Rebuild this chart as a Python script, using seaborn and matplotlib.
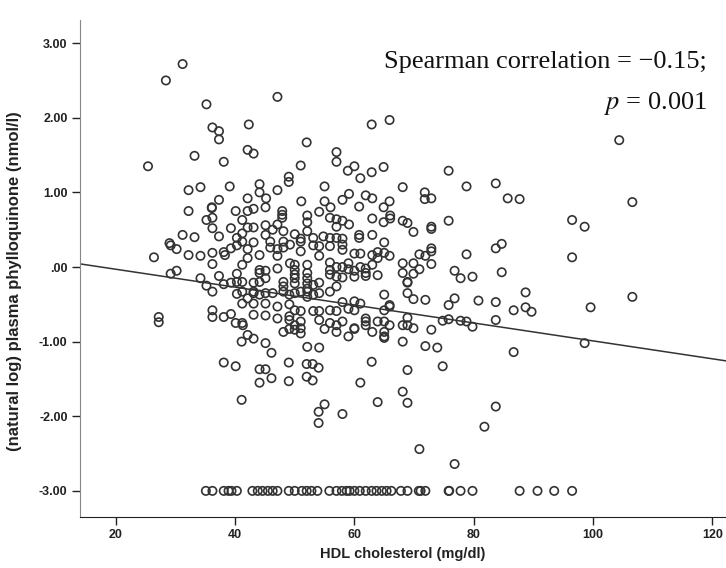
import numpy as np
import pandas as pd
import matplotlib
matplotlib.use('Agg')
import matplotlib.pyplot as plt
import seaborn as sns

# HDL cholesterol (mg/dl) and ln plasma phylloquinone (nmol/l)
hdl_upper = [31.2, 28.4, 35.2, 36.2, 37.3, 37.3, 33.2, 25.4, 38.1, 39.1, 34.2, 32.2,
             47.1, 42.3, 62.9, 65.9, 52.0, 42.1, 43.1, 57.0, 57.0, 51.0, 58.9, 60.0,
             61.0, 62.9, 64.9, 49.0, 49.0, 44.1, 55.0, 47.1,
             75.8, 78.8, 83.7, 68.1, 104.4]
phk_upper = [2.72, 2.50, 2.18, 1.87, 1.82, 1.71, 1.49, 1.35, 1.41, 1.08, 1.07, 1.03,
             2.28, 1.91, 1.91, 1.97, 1.67, 1.57, 1.52, 1.54, 1.41, 1.36, 1.29, 1.35,
             1.19, 1.27, 1.34, 1.21, 1.14, 1.11, 1.08, 1.03,
             1.29, 1.08, 1.12, 1.07, 1.70]

hdl_right = [106.6, 96.5, 98.6, 96.5, 106.6, 99.6, 98.6,
             71.8, 71.8, 72.9, 85.7, 87.7, 68.1, 68.9, 69.9, 72.9, 72.9, 75.8, 72.9,
             72.9, 70.9, 71.9, 78.8, 83.7, 84.7, 68.1, 69.9, 68.1, 69.9, 70.9, 72.9,
             68.9, 68.9, 76.8, 77.8, 79.8, 84.7, 68.9, 69.9, 71.9, 75.8, 76.8, 80.8,
             83.7, 88.7, 86.7, 88.7, 89.7, 68.9, 68.1, 68.9, 69.9, 72.9, 74.8, 75.8,
             77.8, 78.8, 79.8, 83.7, 68.1, 71.9, 73.9, 86.7,
             68.9, 74.8, 68.1, 68.9, 83.7, 81.8, 70.9, 76.8]
phk_right = [0.87, 0.63, 0.54, 0.13, -0.40, -0.54, -1.02,
             1.00, 0.91, 0.92, 0.92, 0.91, 0.62, 0.59, 0.47, 0.54, 0.51, 0.62, 0.25,
             0.21, 0.17, 0.15, 0.17, 0.25, 0.31, 0.05, 0.05, -0.08, -0.09, -0.03, 0.04,
             -0.20, -0.21, -0.05, -0.15, -0.13, -0.07, -0.35, -0.43, -0.44, -0.51, -0.42, -0.45,
             -0.47, -0.34, -0.58, -0.54, -0.60, -0.68, -0.78, -0.78, -0.82, -0.84, -0.72, -0.70,
             -0.72, -0.73, -0.80, -0.71, -1.00, -1.06, -1.08, -1.14,
             -1.38, -1.33, -1.67, -1.82, -1.87, -2.14, -2.44, -2.64]

hdl_left = [37.3, 36.1, 36.1, 32.2, 40.1, 35.2, 36.2, 36.2, 39.3, 31.2, 33.2, 37.3,
            40.3, 29.0, 29.2, 30.2, 26.4, 32.2, 34.2, 36.2, 38.1, 38.3, 39.3, 40.3,
            36.2, 29.2, 30.2, 34.2, 35.2, 36.2, 37.3, 38.1, 39.3, 40.3, 40.3, 40.3,
            27.2, 27.2, 36.2, 36.2, 38.1, 39.3, 40.1, 41.1, 41.3,
            38.1, 40.1, 41.1]
phk_left = [0.90, 0.80, 0.79, 0.75, 0.75, 0.63, 0.66, 0.52, 0.52, 0.43, 0.40, 0.41,
            0.39, 0.32, 0.29, 0.24, 0.13, 0.16, 0.15, 0.19, 0.20, 0.16, 0.25, 0.29,
            0.04, -0.09, -0.05, -0.15, -0.25, -0.33, -0.12, -0.23, -0.21, -0.09, -0.20, -0.36,
            -0.67, -0.74, -0.58, -0.67, -0.67, -0.63, -0.75, -1.00, -0.78,
            -1.28, -1.33, -1.78]

hdl_low = [46.1, 44.1, 45.1, 44.1, 46.1, 49.0, 49.0, 52.0, 53.0, 54.0, 52.0, 53.0,
           54.0, 55.0, 54.0, 58.0, 62.9, 61.0, 63.9]
phk_low = [-1.15, -1.37, -1.37, -1.55, -1.49, -1.28, -1.53, -1.30, -1.30, -1.35, -1.47, -1.52,
           -1.94, -1.84, -2.09, -1.97, -1.27, -1.55, -1.81]

hdl_mid = [44.1, 42.1, 45.2, 51.1, 55.0, 56.0, 58.0, 59.1, 61.9, 63.0, 65.9, 64.9,
           43.1, 42.1, 45.1, 47.9, 47.9, 47.9, 52.1, 52.1, 54.1, 55.9, 57.0, 57.0, 58.0,
           59.1, 60.8, 63.0, 66.0, 66.0, 64.9,
           41.2, 42.1, 43.1, 45.1, 45.1, 46.3, 47.1, 48.1, 50.0, 51.0, 51.0, 52.1, 53.1,
           54.8, 55.9, 57.0, 58.0, 58.0, 60.8, 60.8, 63.0, 65.0,
           41.2, 41.2, 43.1, 42.1, 45.9, 45.9, 47.1, 48.1, 48.1, 49.2, 51.0, 53.1, 54.1,
           54.1, 55.9, 58.0, 60.0, 61.0, 63.0, 63.9, 65.0, 65.9,
           42.1, 41.2, 44.1, 47.1, 47.1, 49.2, 50.0, 50.0, 50.0, 52.1, 52.1, 55.9, 55.9,
           55.9, 57.0, 58.0, 59.0, 59.0, 60.0, 61.0, 61.9, 61.9, 63.0, 63.9,
           41.2, 43.1, 44.1, 44.1, 45.1, 44.1, 45.1, 48.1, 48.1, 50.0, 50.0, 52.1, 52.1,
           52.1, 53.1, 54.1, 57.0, 58.0, 60.0, 61.9, 63.9,
           41.2, 42.1, 43.1, 43.1, 44.1, 45.1, 46.3, 48.1, 49.1, 50.0, 51.0, 52.1, 52.1,
           53.1, 54.1, 55.9, 57.0, 58.0, 60.0, 61.0, 65.0, 65.9, 65.9,
           41.2, 43.1, 45.1, 47.1, 49.1, 50.0, 51.0, 53.1, 54.1, 55.9, 57.0, 59.0, 60.0, 65.0,
           41.2, 43.1, 45.1, 47.1, 49.1, 49.1, 50.0, 51.0, 51.0, 54.1, 55.9, 57.0, 58.0,
           60.0, 61.9, 61.9, 61.9, 63.9, 65.0, 65.0, 65.0, 65.9,
           42.1, 43.1, 45.1, 48.1, 49.1, 50.0, 51.0, 52.1, 54.1, 55.0, 57.0, 59.0, 60.0,
           63.0, 65.0]
phk_mid = [1.00, 0.92, 0.92, 0.88, 0.88, 0.80, 0.90, 0.98, 0.96, 0.92, 0.88, 0.80,
           0.78, 0.75, 0.80, 0.75, 0.70, 0.66, 0.69, 0.60, 0.74, 0.66, 0.64, 0.54, 0.62,
           0.57, 0.81, 0.65, 0.69, 0.65, 0.60,
           0.63, 0.53, 0.53, 0.56, 0.43, 0.50, 0.57, 0.48, 0.44, 0.38, 0.34, 0.48, 0.39,
           0.41, 0.39, 0.39, 0.38, 0.30, 0.43, 0.39, 0.43, 0.33,
           0.45, 0.34, 0.33, 0.24, 0.34, 0.26, 0.24, 0.34, 0.26, 0.30, 0.21, 0.29, 0.28,
           0.15, 0.28, 0.23, 0.18, 0.18, 0.16, 0.20, 0.19, 0.15,
           0.12, 0.03, 0.16, 0.15, -0.02, 0.05, 0.03, -0.04, -0.10, 0.03, -0.08, 0.06, -0.04,
           -0.10, 0.00, 0.00, 0.05, -0.03, -0.05, 0.00, -0.02, -0.08, 0.03, 0.12,
           -0.20, -0.21, -0.04, -0.08, -0.05, -0.20, -0.15, -0.20, -0.26, -0.15, -0.22, -0.15, -0.22,
           -0.29, -0.24, -0.21, -0.13, -0.14, -0.13, -0.12, -0.11,
           -0.33, -0.42, -0.33, -0.35, -0.37, -0.35, -0.35, -0.33, -0.37, -0.35, -0.33, -0.33, -0.40,
           -0.37, -0.35, -0.33, -0.26, -0.47, -0.46, -0.49, -0.37, -0.51, -0.53,
           -0.49, -0.49, -0.49, -0.53, -0.50, -0.58, -0.59, -0.59, -0.59, -0.58, -0.59, -0.56, -0.58, -0.58,
           -0.75, -0.64, -0.65, -0.69, -0.66, -0.71, -0.78, -0.73, -0.82, -0.71, -0.75, -0.78, -0.73,
           -0.82, -0.69, -0.73, -0.78, -0.73, -0.73, -0.87, -0.93, -0.78,
           -0.91, -0.96, -1.02, -0.87, -0.83, -0.84, -0.89, -1.07, -1.08, -0.83, -0.87, -0.93, -0.83,
           -0.87, -0.95]

# values at the detection limit (plotted at -3.00)
hdl_floor = [35.1, 36.2, 38.1, 38.9, 39.4, 40.3, 42.9, 43.8, 44.6, 45.5, 46.3, 47.1,
             49.0, 50.0, 51.2, 52.0, 52.8, 53.8, 55.8, 57.0, 57.9, 58.7, 59.2, 60.0,
             60.9, 61.9, 62.9, 63.7, 64.6, 65.4, 66.2, 67.8, 68.9, 70.8, 71.1, 71.9,
             75.8, 75.9, 77.8, 79.8, 87.7, 90.7, 93.5, 96.5]
floor_value = -3.0

# fitted line
fit_intercept = 0.21
fit_slope = -0.012

x_ticks = [20, 40, 60, 80, 100, 120]
y_ticks = [-3, -2, -1, 0, 1, 2, 3]
y_ticklabels = ['-3.00', '-2.00', '-1.00', '.00', '1.00', '2.00', '3.00']

hdl = hdl_upper + hdl_right + hdl_left + hdl_low + hdl_mid + hdl_floor
phk = phk_upper + phk_right + phk_left + phk_low + phk_mid + [floor_value] * len(hdl_floor)
df = pd.DataFrame({'hdl': hdl, 'phk': phk})

sns.set_style('white')
plt.rcParams['font.family'] = ['Liberation Sans', 'DejaVu Sans']
plt.rcParams['mathtext.fontset'] = 'stix'

fig = plt.figure(figsize=(7.26, 5.68), dpi=100)
ax = fig.add_axes([80 / 726, 1 - 517 / 568, 646 / 726, 497 / 568])

sns.scatterplot(data=df, x='hdl', y='phk', ax=ax, marker='o', s=36,
                facecolor='none', edgecolor='#333333', linewidth=1.2, legend=False)
ax.collections[0].set_facecolor('none')

xs = np.array([10, 130])
ax.plot(xs, fit_intercept + fit_slope * xs, color='#333333', linewidth=1.1)

ax.set_xlim(14, 122.3)
ax.set_ylim(-3.35, 3.31)
ax.set_xticks(x_ticks)
ax.set_yticks(y_ticks)
ax.set_yticklabels(y_ticklabels)
ax.tick_params(axis='both', direction='out', length=6, width=1, color='#222222',
               labelsize=9, pad=3, bottom=True, left=True)
for lab in ax.get_xticklabels() + ax.get_yticklabels():
    lab.set_fontweight('bold')
    lab.set_color('#222222')

for side in ['top', 'right']:
    ax.spines[side].set_visible(False)
ax.spines['left'].set_color('#888888')
ax.spines['bottom'].set_color('#222222')

ax.set_xlabel('HDL cholesterol (mg/dl)', fontsize=10.5, fontweight='bold', color='#222222')
ax.set_ylabel('(natural log) plasma phylloquinone (nmol/l)', fontsize=12, fontweight='bold',
              color='#222222')
ax.yaxis.set_label_coords(-58 / 646, 0.475)

fig.text(707 / 726, 1 - 68 / 568, 'Spearman correlation = \u22120.15;', ha='right',
         va='baseline', fontsize=19, family='Liberation Serif', color='#111111')
fig.text(707 / 726, 1 - 109 / 568, '$p$ = 0.001', ha='right', va='baseline',
         fontsize=19, family='Liberation Serif', color='#111111')

fig.savefig('out.png', dpi=100)
